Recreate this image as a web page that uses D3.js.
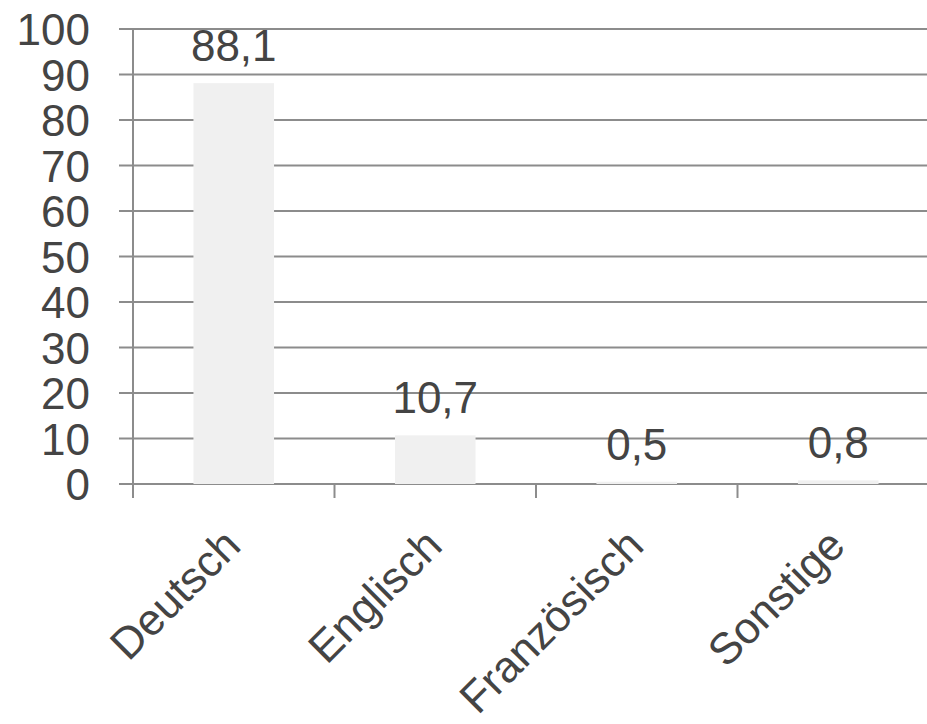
<!DOCTYPE html>
<html>
<head>
<meta charset="utf-8">
<script src="https://cdn.jsdelivr.net/npm/d3@7"></script>
<style>
  html, body { margin: 0; padding: 0; background: #ffffff; }
  svg { display: block; }
  text { font-family: "Liberation Sans", Arial, sans-serif; fill: #444444; }
</style>
</head>
<body>
<svg id="chart" width="927" height="724"></svg>
<script>
const categories = ["Deutsch", "Englisch", "Französisch", "Sonstige"];
const values = [88.1, 10.7, 0.5, 0.8];
const valueLabels = ["88,1", "10,7", "0,5", "0,8"];
const yTicks = [0, 10, 20, 30, 40, 50, 60, 70, 80, 90, 100];

(function () {
const svg = d3.select("#chart");
const plotLeft = 133, plotRight = 939, plotTop = 29, plotBottom = 484;
const fontSize = 44;
const gridColor = "#8c8c8c";
const textColor = "#444444";

const x = d3.scaleBand().domain(categories).range([plotLeft, plotRight]).paddingInner(0.6).paddingOuter(0.3);
const y = d3.scaleLinear().domain([0, 100]).range([plotBottom, plotTop]);

// gridlines
svg.append("g").selectAll("line").data(yTicks).join("line")
  .attr("x1", plotLeft - 14).attr("x2", plotRight)
  .attr("y1", d => y(d)).attr("y2", d => y(d))
  .attr("stroke", gridColor).attr("stroke-width", 2);

// bars
svg.append("g").selectAll("rect").data(categories).join("rect")
  .attr("x", d => x(d))
  .attr("width", x.bandwidth())
  .attr("y", (d, i) => y(values[i]))
  .attr("height", (d, i) => y(0) - y(values[i]))
  .attr("fill", "#f0f0f0");

// y axis
const yAxis = d3.axisLeft(y).tickValues(yTicks).tickSize(0).tickPadding(43);
const gy = svg.append("g").attr("transform", `translate(${plotLeft},0)`).call(yAxis);
gy.select(".domain").remove();
gy.selectAll("text").attr("font-size", fontSize).attr("dy", "0.36em")
  .attr("font-family", "'Liberation Sans', Arial, sans-serif").style("fill", textColor);

// vertical axis line
svg.append("line")
  .attr("x1", plotLeft).attr("x2", plotLeft)
  .attr("y1", y(100)).attr("y2", y(0) + 14)
  .attr("stroke", gridColor).attr("stroke-width", 2);

// category ticks at band boundaries
const boundaries = categories.map(c => x(c) - x.step() * 0.3).concat([plotRight]);
svg.append("g").selectAll("line").data(boundaries).join("line")
  .attr("x1", d => d).attr("x2", d => d)
  .attr("y1", y(0)).attr("y2", y(0) + 14)
  .attr("stroke", gridColor).attr("stroke-width", 2);

// value labels
svg.append("g").selectAll("text").data(categories).join("text")
  .attr("x", d => x(d) + x.bandwidth() / 2)
  .attr("y", (d, i) => y(values[i]) - 22)
  .attr("text-anchor", "middle")
  .attr("font-size", fontSize)
  .text((d, i) => valueLabels[i]);

// category labels rotated
svg.append("g").selectAll("text").data(categories).join("text")
  .attr("transform", d => `translate(${x(d) + x.bandwidth() / 2 + 9},548) rotate(-45)`)
  .attr("text-anchor", "end")
  .attr("font-size", fontSize)
  .text(d => d);
})();
</script>
</body>
</html>
